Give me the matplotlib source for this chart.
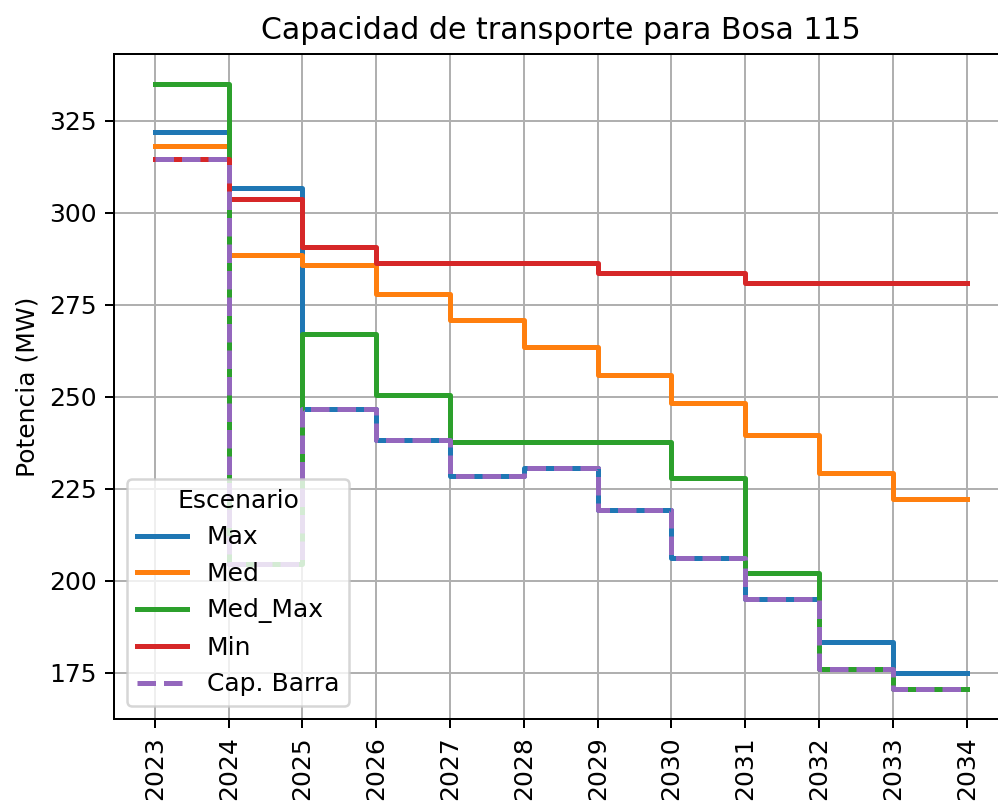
import matplotlib
matplotlib.use("Agg")
import matplotlib.pyplot as plt

years = [2023, 2024, 2025, 2026, 2027, 2028, 2029, 2030, 2031, 2032, 2033, 2034]

cap_max = [322.0, 306.7, 246.7, 238.1, 228.4, 230.6, 219.3, 206.2, 195.0, 183.4, 175.0, 175.0]
cap_med = [318.1, 288.6, 285.8, 278.0, 270.8, 263.6, 255.8, 248.4, 239.5, 229.3, 222.1, 222.1]
cap_med_max = [334.9, 204.5, 267.0, 250.5, 237.7, 237.7, 237.7, 227.9, 202.0, 176.0, 170.6, 170.6]
cap_min = [314.7, 303.8, 290.8, 286.3, 286.3, 286.3, 283.7, 283.7, 280.8, 280.8, 280.8, 280.8]
cap_barra = [314.7, 204.5, 246.7, 238.1, 228.4, 230.6, 219.3, 206.2, 195.0, 176.0, 170.6, 170.6]

dpi = 180
fig = plt.figure(figsize=(998 / dpi, 802 / dpi), dpi=dpi)
ax = fig.add_axes([0.1145, 0.1035, 0.8948, 0.829])

ax.step(years, cap_max, where="post", lw=2, color="C0", label="Max")
ax.step(years, cap_med, where="post", lw=2, color="C1", label="Med")
ax.step(years, cap_med_max, where="post", lw=2, color="C2", label="Med_Max")
ax.step(years, cap_min, where="post", lw=2, color="C3", label="Min")
ax.step(years, cap_barra, where="post", lw=2, color="C4", linestyle="--", label="Cap. Barra")

ax.set_title("Capacidad de transporte para Bosa 115", fontsize=12)
ax.set_ylabel("Potencia (MW)")
ax.set_xticks(years)
ax.set_xticklabels([str(y) for y in years], rotation=90)
ax.grid(True)
ax.legend(title="Escenario", loc="lower left")

fig.savefig("out.png", dpi=dpi)
